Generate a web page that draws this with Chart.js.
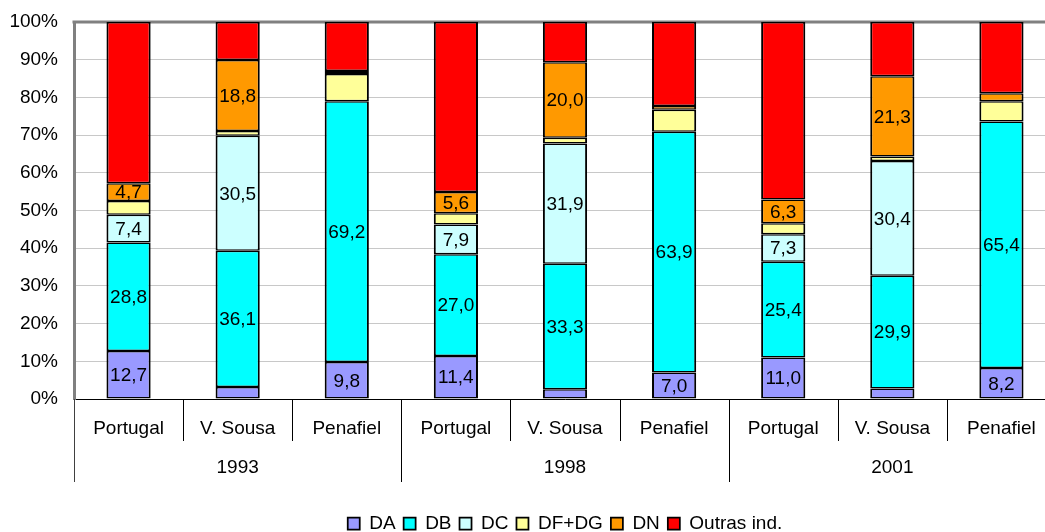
<!DOCTYPE html>
<html>
<head>
<meta charset="utf-8">
<script src="https://cdn.jsdelivr.net/npm/chart.js@4/dist/chart.umd.min.js"></script>
<style>
  html, body { margin: 0; padding: 0; background: #ffffff; overflow: hidden; width: 1045px; height: 532px; }
  #wrap { position: absolute; left: 0; top: 0; }
  canvas { display: block; }
</style>
</head>
<body>
<div id="wrap"><canvas id="c" width="1130" height="543"></canvas></div>
<script>
// ---- data ----
const categories = ['Portugal', 'V. Sousa', 'Penafiel', 'Portugal', 'V. Sousa', 'Penafiel', 'Portugal', 'V. Sousa', 'Penafiel'];
const years = ['1993', '1998', '2001'];
const yTicks = [0, 10, 20, 30, 40, 50, 60, 70, 80, 90, 100];
const seriesNames = ['DA', 'DB', 'DC', 'DF+DG', 'DN', 'Outras ind.'];
const DA     = [12.7,  3.2,  9.8, 11.4,  2.6,  7.0, 11.0,  2.8,  8.2];
const DB     = [28.8, 36.1, 69.2, 27.0, 33.3, 63.9, 25.4, 29.9, 65.4];
const DC     = [ 7.4, 30.5,  0.0,  7.9, 31.9,  0.0,  7.3, 30.4,  0.0];
const DFDG   = [ 3.6,  1.3,  7.2,  3.0,  1.5,  5.8,  2.9,  1.2,  5.4];
const DN     = [ 4.7, 18.8,  0.8,  5.6, 20.0,  1.0,  6.3, 21.3,  2.1];
const OUTRAS = [42.8, 10.1, 13.0, 45.1, 10.7, 22.3, 47.1, 14.4, 18.9];
const labelledSeries = ['DA', 'DB', 'DC', 'DN'];
const minLabelValue = 4;

// ---- styles ----
const colors = ['#9999FF', '#00FFFF', '#CCFFFF', '#FFFF99', '#FF9900', '#FF0000'];
const FONT = '"Liberation Sans", Arial, sans-serif';
const FS = 19;

Chart.defaults.font.family = FONT;
Chart.defaults.font.size = FS;
Chart.defaults.color = '#000000';

const seriesValues = [DA, DB, DC, DFDG, DN, OUTRAS];
const datasets = seriesNames.map((name, i) => ({
  label: name,
  data: seriesValues[i],
  backgroundColor: colors[i],
  borderColor: '#000000',
  borderWidth: { top: 1.5, bottom: 1.5, left: 2, right: 2 },
  borderSkipped: false,
  categoryPercentage: 1.0,
  barPercentage: 0.405,
  xAxisID: 'x',
  yAxisID: 'y'
}));

const groupSize = categories.length / years.length;

const decor = {
  id: 'decor',
  beforeDatasetsDraw(chart) {
    const { ctx, chartArea } = chart;
    ctx.save();
    ctx.strokeStyle = '#808080';
    ctx.lineWidth = 3;
    ctx.beginPath();
    ctx.moveTo(chartArea.left - 1.5, chartArea.top);
    ctx.lineTo(chartArea.right, chartArea.top);
    ctx.stroke();
    ctx.restore();
  },
  afterDatasetsDraw(chart) {
    const { ctx } = chart;
    ctx.save();
    ctx.font = FS + 'px ' + FONT;
    ctx.fillStyle = '#000000';
    ctx.textAlign = 'center';
    ctx.textBaseline = 'middle';
    chart.data.datasets.forEach((ds, di) => {
      if (!labelledSeries.includes(ds.label)) return;
      const meta = chart.getDatasetMeta(di);
      meta.data.forEach((bar, i) => {
        const v = ds.data[i];
        if (v == null || v < minLabelValue) return;
        const p = bar.getProps(['x', 'y', 'base'], true);
        ctx.fillText(v.toFixed(1).replace('.', ','), p.x, (p.y + p.base) / 2 + 1);
      });
    });
    ctx.restore();
  },
  afterDraw(chart) {
    const { ctx } = chart;
    const xs = chart.scales.x;
    const x2 = chart.scales.x2;
    const n = categories.length;
    ctx.save();
    ctx.lineWidth = 1;
    for (let i = 0; i <= n; i++) {
      let px;
      if (i === 0) px = xs.left;
      else if (i === n) px = xs.right;
      else px = (xs.getPixelForValue(i - 1) + xs.getPixelForValue(i)) / 2;
      const yearEdge = i % groupSize === 0;
      const yEnd = yearEdge ? x2.top + 42 : xs.bottom + 1;
      const cx = Math.round(px) + 0.5;
      ctx.strokeStyle = i === 0 ? '#404040' : '#000000';
      ctx.beginPath();
      ctx.moveTo(cx, xs.top);
      ctx.lineTo(cx, yEnd);
      ctx.stroke();
    }
    ctx.restore();
  }
};

new Chart(document.getElementById('c'), {
  type: 'bar',
  data: { labels: categories, datasets },
  plugins: [decor],
  options: {
    responsive: false,
    animation: false,
    events: [],
    layout: { padding: { top: 22, left: 0, right: 0, bottom: 0 } },
    plugins: {
      legend: {
        position: 'bottom',
        labels: {
          boxWidth: 12,
          boxHeight: 12,
          padding: 8,
          color: '#000000',
          font: { size: FS, family: FONT }
        }
      },
      tooltip: { enabled: false },
      title: { display: false }
    },
    scales: {
      x: {
        type: 'category',
        position: 'bottom',
        stacked: true,
        offset: true,
        weight: 0,
        grid: { display: false, drawTicks: false },
        border: { display: true, color: '#000000', width: 1 },
        ticks: { autoSkip: false, maxRotation: 0, minRotation: 0, padding: 18, color: '#000000', font: { size: FS } },
        afterFit(s) { s.height = 41; }
      },
      x2: {
        type: 'category',
        position: 'bottom',
        labels: years,
        offset: true,
        weight: 1,
        grid: { display: false, drawTicks: false },
        border: { display: false },
        ticks: { autoSkip: false, maxRotation: 0, minRotation: 0, padding: 16, color: '#000000', font: { size: FS } },
        afterFit(s) { s.height = 66; }
      },
      y: {
        type: 'linear',
        position: 'left',
        stacked: true,
        min: yTicks[0],
        max: yTicks[yTicks.length - 1],
        afterBuildTicks(s) { s.ticks = yTicks.map(v => ({ value: v })); },
        grid: { color: '#c8c8c8', lineWidth: 1, drawTicks: false },
        border: { display: true, color: '#808080', width: 3 },
        ticks: { padding: 16, color: '#000000', font: { size: FS }, callback: v => v + '%' },
        afterFit(s) { s.width = 74; s.paddingTop = 12; s.paddingBottom = 12; }
      },
      yPad: {
        type: 'linear',
        position: 'right',
        display: true,
        grid: { display: false, drawTicks: false },
        border: { display: false },
        ticks: { display: false },
        afterFit(s) { s.width = 74; s.paddingTop = 0; s.paddingBottom = 0; }
      }
    }
  }
});
</script>
</body>
</html>
